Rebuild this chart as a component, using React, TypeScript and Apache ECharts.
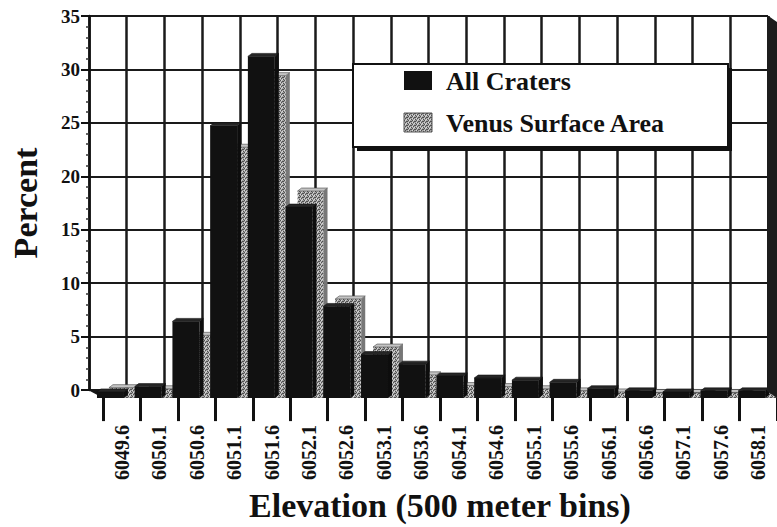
import React, { useEffect, useRef } from "react";
import * as echarts from "echarts";

const categories = [
  "6049.6", "6050.1", "6050.6", "6051.1", "6051.6", "6052.1", "6052.6", "6053.1", "6053.6",
  "6054.1", "6054.6", "6055.1", "6055.6", "6056.1", "6056.6", "6057.1", "6057.6", "6058.1",
];
const allCraters = [0.1, 0.6, 6.7, 25.0, 31.5, 17.4, 8.1, 3.6, 2.7, 1.6, 1.4, 1.2, 1.0, 0.4, 0.2, 0.1, 0.2, 0.2];
const venusArea = [0.5, 0.4, 5.4, 23.0, 29.7, 18.9, 8.8, 4.3, 1.7, 0.7, 0.6, 0.4, 0.2, 0.1, 0.05, 0.05, 0.05, 0.05];
const seriesNames = ["All Craters", "Venus Surface Area"];
const yTicks = { min: 0, max: 35, interval: 5 };

const FONT = "Liberation Serif";

function makePattern(): any {
  const c = document.createElement("canvas");
  c.width = 4;
  c.height = 4;
  const ctx = c.getContext("2d");
  if (!ctx) return "#a0a0a0";
  ctx.fillStyle = "#a4a4a4";
  ctx.fillRect(0, 0, 4, 4);
  ctx.fillStyle = "#505050";
  [[0, 0], [2, 1], [1, 2], [3, 3], [3, 1]].forEach(([x, y]) => ctx.fillRect(x, y, 1, 1));
  ctx.fillStyle = "#d8d8d8";
  [[2, 3], [0, 2], [1, 0]].forEach(([x, y]) => ctx.fillRect(x, y, 1, 1));
  return { image: c, repeat: "repeat" };
}

function makeRender(kind: "black" | "grey", fill: any, topFill: any) {
  return (params: any, api: any) => {
    const i = api.value(0);
    const v = api.value(1);
    const base = api.coord([i, 0]);
    const top = api.coord([i, v]);
    const bw = api.size([1, 0])[0];
    const s = bw / 37.8;
    const L = base[0] - bw / 2;
    const x0 = L + (kind === "black" ? 8 : 20) * s;
    const w = (kind === "black" ? 27 : 26) * s;
    const dx = 4;
    const dy = 3;
    const yb = base[1] + 8;
    const yt = Math.min(top[1] + dy, yb - 1);
    return {
      type: "group",
      children: [
        {
          type: "rect",
          shape: { x: x0, y: yt, width: w, height: yb - yt },
          style: { fill },
        },
        {
          type: "polygon",
          shape: { points: [[x0, yt], [x0 + dx, yt - dy], [x0 + w + dx, yt - dy], [x0 + w, yt]] },
          style: { fill: topFill, stroke: kind === "black" ? "#111" : "#444", lineWidth: 0.6 },
        },
        {
          type: "polygon",
          shape: { points: [[x0 + w, yt], [x0 + w + dx, yt - dy], [x0 + w + dx, yb - dy], [x0 + w, yb]] },
          style: { fill: kind === "black" ? "#0d0d0d" : "#777" },
        },
      ],
    };
  };
}

export default function App() {
  const ref = useRef<HTMLDivElement>(null);
  useEffect(() => {
    if (!ref.current) return;
    const chart = echarts.init(ref.current, undefined, { renderer: "svg" });
    const pattern = makePattern();
    const legendFont = { fontFamily: FONT, fontWeight: "bold", fontSize: 26, fill: "#111" };
    const option: any = {
      animation: false,
      backgroundColor: "#ffffff",
      textStyle: { fontFamily: FONT, fontWeight: "bold", color: "#111" },
      grid: [
        { left: 88, top: 16, width: 680, height: 374 },
        { left: 103, top: 26, width: 680, height: 372 },
      ],
      xAxis: [
        {
          type: "category",
          gridIndex: 0,
          data: categories,
          boundaryGap: true,
          axisLine: { show: false },
          axisTick: { show: false },
          axisLabel: { show: false },
          splitLine: { show: true, interval: 0, lineStyle: { color: "#1a1a1a", width: 2.5 } },
        },
        {
          type: "category",
          gridIndex: 1,
          data: categories,
          boundaryGap: true,
          axisLine: { show: false },
          axisTick: { show: true, interval: 0, length: 28, lineStyle: { color: "#111", width: 3 } },
          axisLabel: {
            interval: 0,
            rotate: 90,
            margin: 32,
            color: "#111",
            fontFamily: FONT,
            fontWeight: "bold",
            fontSize: 20,
          },
          splitLine: { show: false },
          name: "Elevation (500 meter bins)",
          nameLocation: "middle",
          nameGap: 86,
          nameTextStyle: { fontFamily: FONT, fontWeight: "bold", fontSize: 34, color: "#111" },
        },
      ],
      yAxis: [
        {
          type: "value",
          gridIndex: 0,
          min: yTicks.min,
          max: yTicks.max,
          interval: yTicks.interval,
          axisLine: { show: true, lineStyle: { color: "#111", width: 2.5 } },
          axisTick: { show: true, length: 8, lineStyle: { color: "#111", width: 2 } },
          minorTick: { show: true, splitNumber: 5, length: 3, lineStyle: { color: "#333", width: 1.5 } },
          splitLine: { show: true, lineStyle: { color: "#1a1a1a", width: 2 } },
          axisLabel: { color: "#111", fontFamily: FONT, fontWeight: "bold", fontSize: 19, margin: 9 },
          name: "Percent",
          nameLocation: "middle",
          nameGap: 47,
          nameTextStyle: { fontFamily: FONT, fontWeight: "bold", fontSize: 34, color: "#111" },
        },
        {
          type: "value",
          gridIndex: 1,
          min: yTicks.min,
          max: yTicks.max,
          show: false,
        },
      ],
      graphic: [
        {
          type: "polygon",
          z: 1,
          shape: { points: [[88, 390], [768, 390], [777, 398], [103, 398]] },
          style: { fill: "#161616" },
        },
        {
          type: "polygon",
          z: 6,
          shape: { points: [[767, 15], [777, 22], [777, 398], [767, 391]] },
          style: { fill: "#1c1c1c" },
        },
        {
          type: "rect",
          z: 15,
          shape: { x: 357, y: 68, width: 375, height: 83 },
          style: { fill: "#111" },
        },
        {
          type: "rect",
          z: 16,
          shape: { x: 353, y: 64, width: 375, height: 83 },
          style: { fill: "#ffffff", stroke: "#111", lineWidth: 2 },
        },
        {
          type: "rect",
          z: 17,
          shape: { x: 404, y: 71, width: 28, height: 19 },
          style: { fill: "#111" },
        },
        {
          type: "rect",
          z: 17,
          shape: { x: 404, y: 113, width: 28, height: 19 },
          style: { fill: pattern, stroke: "#555", lineWidth: 1 },
        },
        {
          type: "text",
          z: 17,
          x: 446,
          y: 81,
          style: { ...legendFont, text: seriesNames[0], verticalAlign: "middle", align: "left" },
        },
        {
          type: "text",
          z: 17,
          x: 446,
          y: 123,
          style: { ...legendFont, text: seriesNames[1], verticalAlign: "middle", align: "left" },
        },
      ],
      series: [
        {
          name: seriesNames[1],
          type: "custom",
          xAxisIndex: 0,
          yAxisIndex: 0,
          z: 2,
          itemStyle: { color: "#a0a0a0" },
          renderItem: makeRender("grey", pattern, "#c4c4c4"),
          encode: { x: 0, y: 1 },
          data: venusArea.map((v, i) => [i, v]),
        },
        {
          name: seriesNames[0],
          type: "custom",
          xAxisIndex: 0,
          yAxisIndex: 0,
          z: 3,
          itemStyle: { color: "#111" },
          renderItem: makeRender("black", "#111", "#262626"),
          encode: { x: 0, y: 1 },
          data: allCraters.map((v, i) => [i, v]),
        },
      ],
    };
    chart.setOption(option);
    return () => chart.dispose();
  }, []);
  return (
    <div
      ref={ref}
      style={{ position: "fixed", left: 0, top: 0, width: 777, height: 527, background: "#fff" }}
    />
  );
}
